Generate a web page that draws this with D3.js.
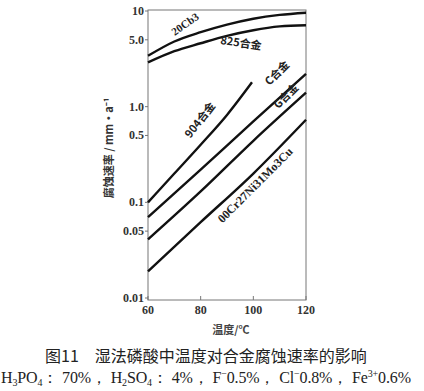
<!DOCTYPE html>
<html>
<head>
<meta charset="utf-8">
<script src="https://cdn.jsdelivr.net/npm/d3@7"></script>
<style>
  body { margin: 0; background: #fff; }
  svg { display: block; }
  text { font-family: "Liberation Serif", "DejaVu Serif", serif; }
  .cjk { font-family: "Noto Sans CJK SC", sans-serif; }
</style>
</head>
<body>
<div id="chart"></div>
<script>
// temperatures (°C) and corrosion rates (mm/a)
var temps = [60, 70, 80, 90, 100, 110, 120];
var rate20Cb3 = [3.4, 4.8, 6.0, 7.2, 8.3, 9.1, 9.6];
var rate825 = [2.9, 3.8, 4.6, 5.5, 6.3, 6.9, 7.1];
var temps904 = [60, 70, 80, 90, 99.5];
var rate904 = [0.10, 0.20, 0.40, 0.82, 1.8];
var tempsLin = [60, 80, 100, 120];
var rateC = [0.07, 0.22, 0.70, 2.2];
var rateG = [0.041, 0.13, 0.44, 1.4];
var rate00Cr = [0.019, 0.062, 0.20, 0.73];

var yTicks = [10, 5, 1, 0.5, 0.1, 0.05, 0.01];
var yTickLabels = ["10", "5.0", "1.0", "0.5", "0.1", "0.05", "0.01"];
var xTicks = [60, 80, 100, 120];

var width = 424, height = 391;

var svg = d3.select("#chart").append("svg")
    .attr("width", width)
    .attr("height", height);

var x = d3.scaleLinear().domain([60, 120]).range([148, 306]);
var y = d3.scaleLog().domain([0.01, 10]).range([298, 11]);

// frame
svg.append("rect")
    .attr("x", 148).attr("y", 10)
    .attr("width", 158).attr("height", 290)
    .attr("fill", "none")
    .attr("stroke", "#777")
    .attr("stroke-width", 1);

// y ticks
var yAxis = svg.append("g");
yAxis.selectAll("line")
    .data(yTicks)
    .enter().append("line")
    .attr("x1", 145).attr("x2", 148)
    .attr("y1", function(d){ return y(d); })
    .attr("y2", function(d){ return y(d); })
    .attr("stroke", "#777");
yAxis.selectAll("text")
    .data(yTicks)
    .enter().append("text")
    .attr("x", 144)
    .attr("y", function(d){ return y(d) + 4; })
    .attr("text-anchor", "end")
    .attr("font-size", 12)
    .attr("font-weight", "bold")
    .attr("fill", "#333")
    .text(function(d, i){ return yTickLabels[i]; });

// x ticks
var xAxis = svg.append("g");
xAxis.selectAll("line")
    .data(xTicks)
    .enter().append("line")
    .attr("x1", function(d){ return x(d); })
    .attr("x2", function(d){ return x(d); })
    .attr("y1", 300).attr("y2", 296)
    .attr("stroke", "#777");
xAxis.selectAll("text")
    .data(xTicks)
    .enter().append("text")
    .attr("x", function(d){ return x(d); })
    .attr("y", 314)
    .attr("text-anchor", "middle")
    .attr("font-size", 12)
    .attr("font-weight", "bold")
    .attr("fill", "#333")
    .text(function(d){ return d; });

// axis titles
svg.append("text")
    .attr("class", "cjk")
    .attr("x", 231).attr("y", 334)
    .attr("text-anchor", "middle")
    .attr("font-size", 11)
    .attr("font-weight", "bold")
    .attr("fill", "#444")
    .text("温度/℃");

svg.append("text")
    .attr("class", "cjk")
    .attr("transform", "translate(113,148) rotate(-90)")
    .attr("text-anchor", "middle")
    .attr("font-size", 11)
    .attr("font-weight", "bold")
    .attr("fill", "#333")
    .text("腐蚀速率 / mm·a⁻¹");

// curves
var curve = d3.line()
    .x(function(d){ return x(d[0]); })
    .y(function(d){ return y(d[1]); })
    .curve(d3.curveMonotoneX);

function series(t, v) { return t.map(function(d, i){ return [d, v[i]]; }); }

var allSeries = [
    series(temps, rate20Cb3),
    series(temps, rate825),
    series(temps904, rate904),
    series(tempsLin, rateC),
    series(tempsLin, rateG),
    series(tempsLin, rate00Cr)
];

svg.append("g").selectAll("path")
    .data(allSeries)
    .enter().append("path")
    .attr("d", curve)
    .attr("fill", "none")
    .attr("stroke", "#111")
    .attr("stroke-width", 2.4);

// curve labels (x, y = centre of the text)
var labels = [
    {t: "20Cb3", x: 185, y: 24, a: -35, cjk: false, s: 11},
    {t: "825合金", x: 241, y: 43, a: 8, cjk: true, s: 11},
    {t: "904合金", x: 200, y: 120, a: -52, cjk: true, s: 11},
    {t: "C合金", x: 277, y: 73, a: -45, cjk: true, s: 11},
    {t: "G合金", x: 286, y: 96, a: -45, cjk: true, s: 11},
    {t: "00Cr27Ni31Mo3Cu", x: 255, y: 185, a: -45, cjk: false, s: 12}
];
svg.append("g").selectAll("text")
    .data(labels)
    .enter().append("text")
    .attr("class", function(d){ return d.cjk ? "cjk" : null; })
    .attr("transform", function(d){ return "translate(" + d.x + "," + d.y + ") rotate(" + d.a + ")"; })
    .attr("text-anchor", "middle")
    .attr("dy", "0.35em")
    .attr("font-size", function(d){ return d.s; })
    .attr("font-weight", "bold")
    .attr("fill", "#222")
    .text(function(d){ return d.t; });

// caption
svg.append("text")
    .attr("class", "cjk")
    .attr("x", 206).attr("y", 362)
    .attr("text-anchor", "middle")
    .attr("font-size", 16)
    .attr("fill", "#222")
    .text("图11　湿法磷酸中温度对合金腐蚀速率的影响");

var sub = svg.append("text")
    .attr("x", 1).attr("y", 383)
    .attr("font-size", 16)
    .attr("fill", "#222")
    .attr("textLength", 410)
    .attr("lengthAdjust", "spacing");
sub.append("tspan").text("H");
sub.append("tspan").attr("font-size", 10).attr("dy", 3).text("3");
sub.append("tspan").attr("dy", -3).text("PO");
sub.append("tspan").attr("font-size", 10).attr("dy", 3).text("4");
sub.append("tspan").attr("dy", -3).text("： 70%， H");
sub.append("tspan").attr("font-size", 10).attr("dy", 3).text("2");
sub.append("tspan").attr("dy", -3).text("SO");
sub.append("tspan").attr("font-size", 10).attr("dy", 3).text("4");
sub.append("tspan").attr("dy", -3).text("： 4%， F");
sub.append("tspan").attr("font-size", 10).attr("dy", -6).text("−");
sub.append("tspan").attr("dy", 6).text("0.5%， Cl");
sub.append("tspan").attr("font-size", 10).attr("dy", -6).text("−");
sub.append("tspan").attr("dy", 6).text("0.8%， Fe");
sub.append("tspan").attr("font-size", 10).attr("dy", -6).text("3+");
sub.append("tspan").attr("dy", 6).text("0.6%");
</script>
</body>
</html>
